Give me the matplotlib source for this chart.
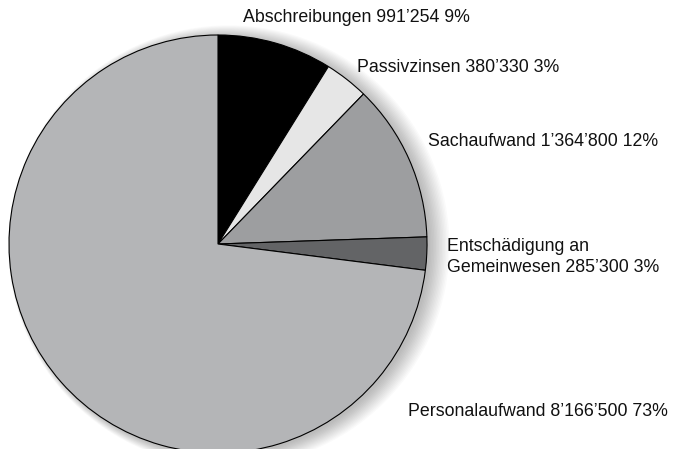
import matplotlib
matplotlib.use("Agg")
import matplotlib.pyplot as plt
from matplotlib.patches import Circle

# data
labels = ["Abschreibungen", "Passivzinsen", "Sachaufwand",
          "Entschädigung an\nGemeinwesen", "Personalaufwand"]
values = [991254, 380330, 1364800, 285300, 8166500]
colors = ["#000000", "#e6e6e6", "#9d9ea0", "#636466", "#b4b5b7"]

# label anchor points in pixel coords (left edge, vertical centre, from top)
label_pos = [(243, 18), (357, 68), (428, 141), (447, 257), (408, 412)]

W, H = 679, 449
cx, cy, r = 218, H - 244, 209

fig = plt.figure(figsize=(W / 100, H / 100), dpi=100)
ax = fig.add_axes([0, 0, 1, 1])

# soft shadow on the right
for i in range(14):
    ax.add_patch(Circle((cx + 3 + i * 0.6, cy - 2), r + i * 0.9,
                        facecolor="black", edgecolor="none",
                        alpha=0.018, zorder=0))

ax.pie(values, colors=colors, startangle=90, counterclock=False,
       center=(cx, cy), radius=r,
       wedgeprops=dict(edgecolor="black", linewidth=0.8))

ax.set_xlim(0, W)
ax.set_ylim(0, H)
ax.set_aspect("equal")
ax.axis("off")

total = sum(values)
for lab, v, (x, y) in zip(labels, values, label_pos):
    num = f"{v:,}".replace(",", "\u2019")
    pct = round(v / total * 100)
    txt = f"{lab} {num} {pct}%"
    ax.text(x, H - y, txt, ha="left", va="center", fontsize=12.8,
            family="Liberation Sans", color="#111111", linespacing=1.32)

fig.savefig("out.png", dpi=100, facecolor="white")
